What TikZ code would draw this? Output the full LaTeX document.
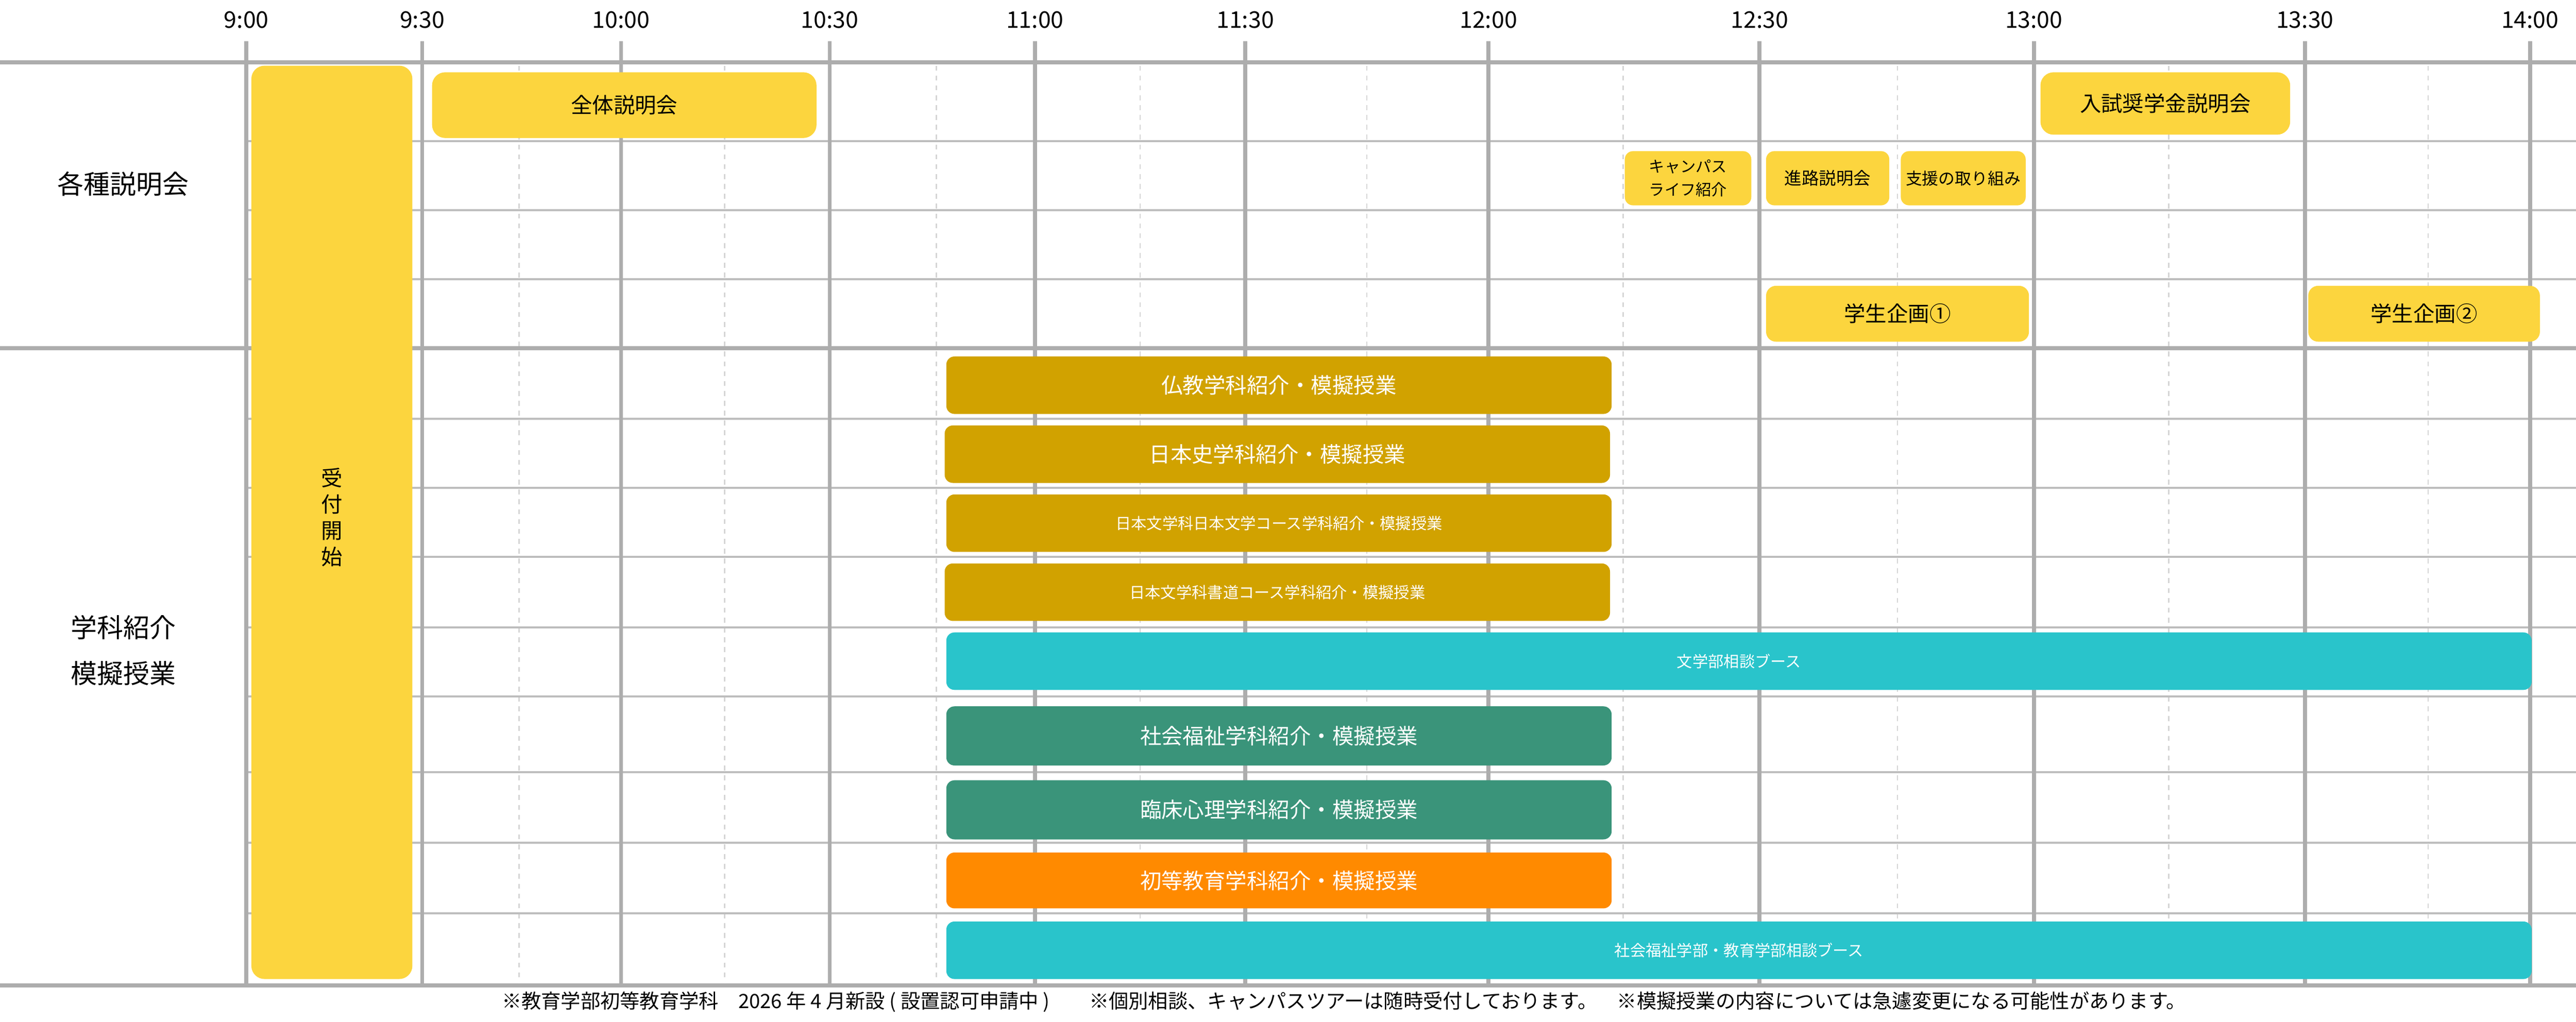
\documentclass[tikz,border=0pt]{standalone}
\usepackage{fontspec}
\setmainfont{Noto Sans CJK JP}
\newfontfamily\numfont{Noto Sans CJK JP}
\definecolor{yel}{HTML}{FCD53E}
\definecolor{gold}{HTML}{D1A200}
\definecolor{teal}{HTML}{29C4CB}
\definecolor{grn}{HTML}{3A947A}
\definecolor{org}{HTML}{FF8A00}
\definecolor{gridc}{HTML}{ADADAD}
\begin{document}
\begin{tikzpicture}[x=1pt,y=-1pt,
  bx/.style={rounded corners=6pt,inner sep=0pt},
  lbl/.style={font=\fontsize{13}{15}\selectfont},
  sml/.style={font=\fontsize{9.5}{12}\selectfont},
  major/.style={draw=gridc,line width=2.4pt},
  minor/.style={draw=gridc!80,line width=1.4pt},
  dsh/.style={draw=gridc!50,line width=0.8pt,dash pattern=on 3pt off 3pt}]
\useasboundingbox (0,0) rectangle (1568,622);
% dashed half lines
\foreach \x in {316,441,570,694,832,988,1155,1320,1478}
  \draw[dsh] (\x,40) -- (\x,598);
% minor horizontals
\foreach \y in {86,128,170,255,297,339,382,424,470,513,556}
  \draw[minor] (150,\y) -- (1568,\y);
% major verticals
\foreach \x/\t in {150/9:00,257/9:30,378/10:00,505/10:30,630/11:00,758/11:30,906/12:00,1071/12:30,1238/13:00,1403/13:30,1540/14:00}{
  \draw[major] (\x,25) -- (\x,600);
  \node[font=\fontsize{14}{16}\selectfont\numfont] (t\x) at (\x,12) {\t};}
\draw[major] (0,38) -- (1568,38);
\draw[major] (0,212) -- (1568,212);
\draw[major] (0,600) -- (1568,600);
% left labels
\node[font=\fontsize{16}{18}\selectfont] (l1) at (75,112) {各種説明会};
\node[font=\fontsize{16}{28}\selectfont,align=center] (l2) at (75,396) {学科紹介\\模擬授業};
% boxes
\newcommand\bxx[6]{\fill[#5,rounded corners=6pt] (#1,#3) rectangle (#2,#4);
  \node[#6,align=center] at ({(#1+#2)/2},{(#3+#4)/2}) {\strut};}
\fill[yel,rounded corners=8pt] (153,40) rectangle (251,596);
\node[lbl,align=center,font=\fontsize{13}{16}\selectfont] (uk) at (202,315) {受\\付\\開\\始};
\fill[yel,rounded corners=8pt] (263,44) rectangle (497,84);
\node[lbl] (a1) at (380,64) {全体説明会};
\fill[yel,rounded corners=5pt] (989,92) rectangle (1066,125);
\node[font=\fontsize{9.5}{14}\selectfont,align=center] (a2) at (1027.5,108.5) {キャンパス\\ライフ紹介};
\fill[yel,rounded corners=5pt] (1075,92) rectangle (1150,125);
\node[font=\fontsize{10.5}{12}\selectfont] (a3) at (1112.5,108.5) {進路説明会};
\fill[yel,rounded corners=5pt] (1157,92) rectangle (1233,125);
\node[font=\fontsize{10}{12}\selectfont] (a4) at (1195,108.5) {支援の取り組み};
\fill[yel,rounded corners=8pt] (1242,44) rectangle (1394,82);
\node[lbl] (a5) at (1318,63) {入試奨学金説明会};
\fill[yel,rounded corners=6pt] (1075,174) rectangle (1235,208);
\node[lbl] (a6) at (1155,191) {学生企画①};
\fill[yel,rounded corners=6pt] (1405,174) rectangle (1546,208);
\node[lbl] (a7) at (1475.5,191) {学生企画②};
% departments
\fill[gold,rounded corners=5pt] (576,217) rectangle (981,252);
\node[lbl,white] (d1) at (778.5,234.5) {仏教学科紹介・模擬授業};
\fill[gold,rounded corners=5pt] (575,259) rectangle (980,294);
\node[lbl,white] (d2) at (777.5,276.5) {日本史学科紹介・模擬授業};
\fill[gold,rounded corners=5pt] (576,301) rectangle (981,336);
\node[sml,white] (d3) at (778.5,318.5) {日本文学科日本文学コース学科紹介・模擬授業};
\fill[gold,rounded corners=5pt] (575,343) rectangle (980,378);
\node[sml,white] (d4) at (777.5,360.5) {日本文学科書道コース学科紹介・模擬授業};
\fill[teal,rounded corners=5pt] (576,385) rectangle (1541,420);
\node[sml,white] (d5) at (1058.5,402.5) {文学部相談ブース};
\fill[grn,rounded corners=5pt] (576,430) rectangle (981,466);
\node[lbl,white] (d6) at (778.5,448) {社会福祉学科紹介・模擬授業};
\fill[grn,rounded corners=5pt] (576,475) rectangle (981,511);
\node[lbl,white] (d7) at (778.5,493) {臨床心理学科紹介・模擬授業};
\fill[org,rounded corners=5pt] (576,519) rectangle (981,553);
\node[lbl,white] (d8) at (778.5,536) {初等教育学科紹介・模擬授業};
\fill[teal,rounded corners=5pt] (576,561) rectangle (1541,596);
\node[sml,white] (d9) at (1058.5,578.5) {社会福祉学部・教育学部相談ブース};
% footer
\node[font=\fontsize{12}{14}\selectfont] (ft) at (818,610) {※教育学部初等教育学科　2026 年 4 月新設 ( 設置認可申請中 )　　※個別相談、キャンパスツアーは随時受付しております。　※模擬授業の内容については急遽変更になる可能性があります。};
\end{tikzpicture}
\end{document}
